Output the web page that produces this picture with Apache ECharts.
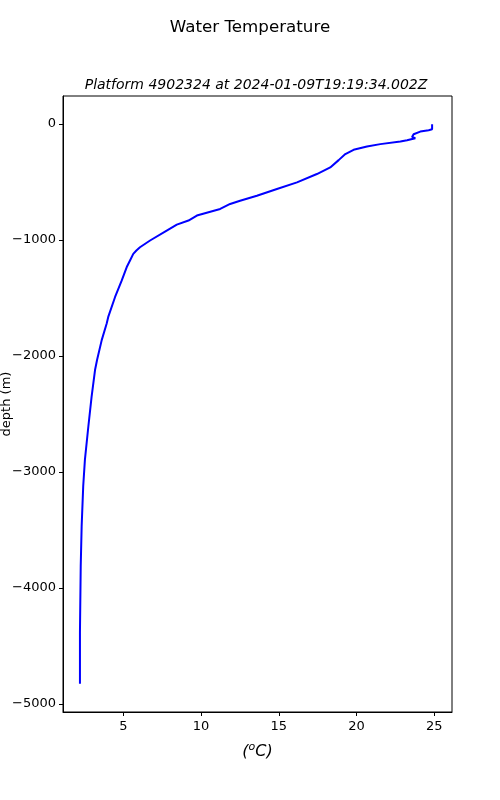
<!DOCTYPE html>
<html>
<head>
<meta charset="utf-8">
<script src="https://cdn.jsdelivr.net/npm/echarts@6/dist/echarts.min.js"></script>
<style>
  html, body { margin: 0; padding: 0; background: #fff; }
  #chart { width: 500px; height: 800px; }
</style>
</head>
<body>
<div id="chart"></div>
<script>
  // profile, surface to bottom
  const temperature = [24.86, 24.86, 24.64, 24.10, 23.67, 23.57, 23.78, 23.25, 22.82, 21.53, 20.67, 19.81, 19.28,
    18.85, 18.31, 17.45, 16.17, 14.88, 13.59, 12.51, 11.87, 11.23, 9.73, 9.19, 8.44, 7.79, 6.72, 6.07, 5.84,
    5.64, 5.43, 5.22, 4.90, 4.47, 4.03, 3.93, 3.61, 3.31, 3.18, 2.96, 2.75, 2.53, 2.42, 2.32, 2.26, 2.21, 2.21]
  const depth = [-3, -46, -54, -66, -89, -112, -123, -140, -152, -174, -195, -223, -260,
    -312, -375, -432, -504, -561, -619, -662, -690, -733, -790, -833, -868, -919, -1005, -1063, -1091,
    -1120, -1177, -1234, -1349, -1492, -1664, -1721, -1864, -2036, -2122, -2351, -2609, -2895, -3124, -3468, -3812, -4384, -4828]
  const xTicks = [5, 10, 15, 20, 25]
  const yTicks = [0, -1000, -2000, -3000, -4000, -5000]

  let chart = echarts.init(document.getElementById('chart'))
  let font = 'DejaVu Sans'

  let option = {
    animation: false,
    title: [{
      text: 'Water Temperature',
      left: 'center',
      top: 14,
      textStyle: { fontFamily: font, fontSize: 16.7, fontWeight: 'normal', color: '#000' }
    }, {
      text: 'Platform 4902324 at 2024-01-09T19:19:34.002Z',
      left: 251,
      textAlign: 'center',
      top: 73,
      textStyle: { fontFamily: font, fontSize: 14, fontStyle: 'italic', fontWeight: 'normal', color: '#000' }
    }],
    grid: {
      left: 63, right: 48, top: 96, bottom: 88,
      outerBoundsMode: 'none', containLabel: false,
      show: true, borderColor: '#000', borderWidth: 1
    },
    xAxis: {
      type: 'value',
      min: 1.12,
      max: 26.14,
      splitLine: { show: false },
      axisLine: { onZero: false, lineStyle: { color: '#000' } },
      axisTick: { show: true, inside: false, length: 4, lineStyle: { color: '#000', width: 1 }, customValues: xTicks },
      axisLabel: { color: '#000', fontFamily: font, fontSize: 13, margin: 8, customValues: xTicks },
      name: '{p|(}{s|o}{c|C)}',
      nameLocation: 'middle',
      nameGap: 30,
      nameMoveOverlap: false,
      nameTextStyle: {
        rich: {
          p: { fontFamily: font, fontSize: 16, fontStyle: 'italic', color: '#000' },
          s: { fontFamily: font, fontSize: 11, fontStyle: 'italic', color: '#000', verticalAlign: 'top', padding: [0, 0, 8, 0] },
          c: { fontFamily: font, fontSize: 16, fontStyle: 'italic', color: '#000' }
        }
      }
    },
    yAxis: {
      type: 'value',
      min: -5071,
      max: 241,
      splitLine: { show: false },
      axisLine: { show: true, onZero: false, lineStyle: { color: '#000' } },
      axisTick: { show: true, inside: false, length: 4, lineStyle: { color: '#000', width: 1 }, customValues: yTicks },
      axisLabel: {
        color: '#000', fontFamily: font, fontSize: 13, margin: 7, customValues: yTicks,
        formatter: v => String(v).replace('-', '\u2212')
      },
      name: 'depth (m)',
      nameLocation: 'middle',
      nameGap: 50,
      nameMoveOverlap: false,
      nameTextStyle: { fontFamily: font, fontSize: 13, color: '#000' }
    },
    series: [{
      type: 'line',
      data: temperature.map((t, i) => [t, depth[i]]),
      showSymbol: false,
      smooth: false,
      lineStyle: { color: '#0000ff', width: 2 }
    }]
  }

  chart.setOption(option)
</script>
</body>
</html>
